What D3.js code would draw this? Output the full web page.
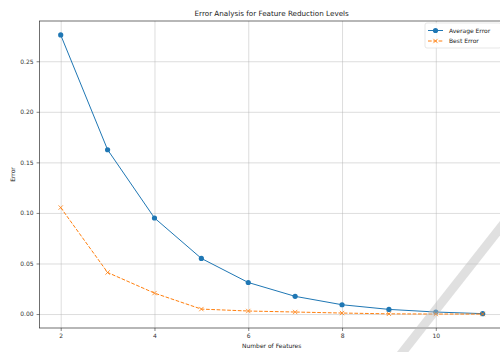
<!DOCTYPE html>
<html>
<head>
<meta charset="utf-8">
<script src="https://cdn.jsdelivr.net/npm/d3@7"></script>
<style>
  body { margin: 0; background: #fff; }
  svg { display: block; font-family: "DejaVu Sans", sans-serif; }
</style>
</head>
<body>
<div id="chart"></div>
<script>
// chart values
const featureCounts = [2, 3, 4, 5, 6, 7, 8, 9, 10, 11];
const averageError = [0.276, 0.1625, 0.095, 0.055, 0.0312, 0.0175, 0.0092, 0.0046, 0.002, 0.0004];
const bestError = [0.1053, 0.0411, 0.0207, 0.0049, 0.003, 0.002, 0.001, 0.0002, 0.0, 0.0];
const xTicks = [2, 4, 6, 8, 10];
const yTicks = [0.00, 0.05, 0.10, 0.15, 0.20, 0.25];

const width = 500, height = 352;
const plot = { left: 39.6, top: 21, right: 503.8, bottom: 328 };

const svg = d3.select('#chart').append('svg')
  .attr('width', width)
  .attr('height', height);

// matplotlib style 5% padding on both axes
const xPad = (d3.max(featureCounts) - d3.min(featureCounts)) * 0.05;
const x = d3.scaleLinear()
  .domain([d3.min(featureCounts) - xPad, d3.max(featureCounts) + xPad])
  .range([plot.left, plot.right]);

const yMin = d3.min(bestError.concat(averageError));
const yMax = d3.max(averageError.concat(bestError));
const yPad = (yMax - yMin) * 0.05;
const y = d3.scaleLinear()
  .domain([yMin - yPad, yMax + yPad])
  .range([plot.bottom, plot.top]);

// grid
const g = svg.append('g');
g.append('g')
  .attr('transform', 'translate(0,' + plot.bottom + ')')
  .call(d3.axisBottom(x).tickValues(xTicks).tickSize(-(plot.bottom - plot.top)).tickFormat(''))
  .call(s => s.select('.domain').remove())
  .selectAll('line').attr('stroke', '#b0b0b0').attr('stroke-opacity', 0.55).attr('stroke-width', 0.8);
g.append('g')
  .attr('transform', 'translate(' + plot.left + ',0)')
  .call(d3.axisLeft(y).tickValues(yTicks).tickSize(-(plot.right - plot.left)).tickFormat(''))
  .call(s => s.select('.domain').remove())
  .selectAll('line').attr('stroke', '#b0b0b0').attr('stroke-opacity', 0.55).attr('stroke-width', 0.8);

// axes
const xAxis = g.append('g')
  .attr('transform', 'translate(0,' + plot.bottom + ')')
  .call(d3.axisBottom(x).tickValues(xTicks).tickSize(3).tickPadding(3).tickFormat(d3.format('d')));
const yAxis = g.append('g')
  .attr('transform', 'translate(' + plot.left + ',0)')
  .call(d3.axisLeft(y).tickValues(yTicks).tickSize(3).tickPadding(3).tickFormat(d3.format('.2f')));
[xAxis, yAxis].forEach(a => {
  a.select('.domain').remove();
  a.selectAll('line').attr('stroke', '#333').attr('stroke-width', 0.6);
  a.selectAll('text').attr('fill', '#333').style('font-size', '6px').style('font-family', '"DejaVu Sans", sans-serif');
});

// frame
g.append('rect')
  .attr('x', plot.left).attr('y', plot.top)
  .attr('width', plot.right - plot.left).attr('height', plot.bottom - plot.top)
  .attr('fill', 'none').attr('stroke', '#333').attr('stroke-width', 0.7);

// lines
const line = d3.line()
  .x((d, i) => x(featureCounts[i]))
  .y(d => y(d));

g.append('path')
  .datum(averageError)
  .attr('fill', 'none')
  .attr('stroke', '#1f77b4')
  .attr('stroke-width', 1)
  .attr('d', line);
g.selectAll('.avg-pt')
  .data(averageError)
  .enter().append('circle')
  .attr('class', 'avg-pt')
  .attr('cx', (d, i) => x(featureCounts[i]))
  .attr('cy', d => y(d))
  .attr('r', 2.6)
  .attr('fill', '#1f77b4');

g.append('path')
  .datum(bestError)
  .attr('fill', 'none')
  .attr('stroke', '#ff7f0e')
  .attr('stroke-width', 1)
  .attr('stroke-dasharray', '3.7,1.6')
  .attr('d', line);
const cross = d3.symbol().type(d3.symbolX).size(14);
g.selectAll('.best-pt')
  .data(bestError)
  .enter().append('path')
  .attr('class', 'best-pt')
  .attr('transform', (d, i) => 'translate(' + x(featureCounts[i]) + ',' + y(d) + ')')
  .attr('d', cross)
  .attr('fill', 'none')
  .attr('stroke', '#ff7f0e')
  .attr('stroke-width', 0.8);

// labels
svg.append('text')
  .attr('x', (plot.left + plot.right) / 2)
  .attr('y', 16)
  .attr('text-anchor', 'middle')
  .style('font-size', '7.2px')
  .attr('fill', '#222')
  .text('Error Analysis for Feature Reduction Levels');
svg.append('text')
  .attr('x', (plot.left + plot.right) / 2)
  .attr('y', 348)
  .attr('text-anchor', 'middle')
  .style('font-size', '6px')
  .attr('fill', '#222')
  .text('Number of Features');
svg.append('text')
  .attr('transform', 'translate(15,' + (plot.top + plot.bottom) / 2 + ') rotate(-90)')
  .attr('text-anchor', 'middle')
  .style('font-size', '6px')
  .attr('fill', '#222')
  .text('Error');

// legend
const legend = svg.append('g').attr('transform', 'translate(425,23)');
legend.append('rect')
  .attr('width', 76).attr('height', 25).attr('rx', 2)
  .attr('fill', '#fff').attr('fill-opacity', 0.8)
  .attr('stroke', '#ddd').attr('stroke-width', 0.7);
const items = [
  { name: 'Average Error', color: '#1f77b4', dash: null, marker: 'circle' },
  { name: 'Best Error', color: '#ff7f0e', dash: '3.7,1.6', marker: 'x' }
];
items.forEach((it, i) => {
  const row = legend.append('g').attr('transform', 'translate(0,' + (7.5 + i * 10.5) + ')');
  row.append('line')
    .attr('x1', 3).attr('x2', 18)
    .attr('stroke', it.color).attr('stroke-width', 1)
    .attr('stroke-dasharray', it.dash);
  if (it.marker === 'circle') {
    row.append('circle').attr('cx', 10.5).attr('r', 2.6).attr('fill', it.color);
  } else {
    row.append('path').attr('transform', 'translate(10.5,0)').attr('d', cross)
      .attr('fill', 'none').attr('stroke', it.color).attr('stroke-width', 0.8);
  }
  row.append('text')
    .attr('x', 24).attr('y', 2.2)
    .style('font-size', '6px')
    .attr('fill', '#222')
    .text(it.name);
});

// faint diagonal stripe seen over the lower right corner
svg.append('line')
  .attr('x1', 398).attr('y1', 358)
  .attr('x2', 508).attr('y2', 218)
  .attr('stroke', '#bbb').attr('stroke-opacity', 0.45)
  .attr('stroke-width', 9);
</script>
</body>
</html>
